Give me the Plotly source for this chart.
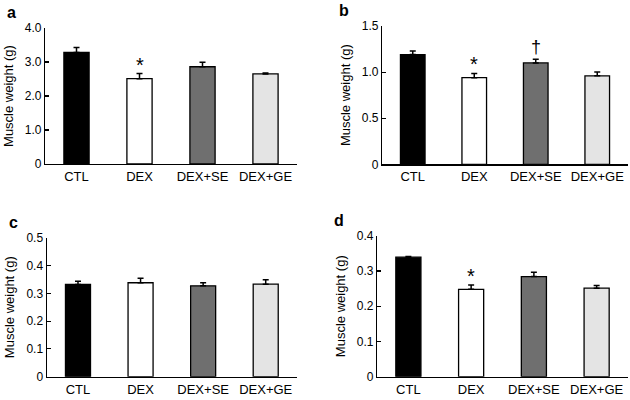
import plotly.graph_objects as go

categories = ["CTL", "DEX", "DEX+SE", "DEX+GE"]
colors = ["#000000", "#ffffff", "#6f6f6f", "#e4e4e4"]

a_vals = [3.28, 2.51, 2.86, 2.65]
a_err = [0.15, 0.15, 0.13, 0.03]
b_vals = [1.19, 0.94, 1.10, 0.96]
b_err = [0.04, 0.045, 0.04, 0.04]
c_vals = [0.332, 0.338, 0.327, 0.333]
c_err = [0.011, 0.016, 0.011, 0.016]
d_vals = [0.339, 0.248, 0.284, 0.251]
d_err = [0.002, 0.012, 0.012, 0.008]

a_ticks = [0, 1, 2, 3, 4]
a_ticktext = ["0", "1.0", "2.0", "3.0", "4.0"]
b_ticks = [0, 0.5, 1.0, 1.5]
b_ticktext = ["0", "0.5", "1.0", "1.5"]
c_ticks = [0, 0.1, 0.2, 0.3, 0.4, 0.5]
c_ticktext = ["0", "0.1", "0.2", "0.3", "0.4", "0.5"]
d_ticks = [0, 0.1, 0.2, 0.3, 0.4]
d_ticktext = ["0", "0.1", "0.2", "0.3", "0.4"]

# significance marks: (panel, category index, symbol)
marks = [("a", 1, "*"), ("b", 1, "*"), ("b", 2, "†"), ("d", 1, "*")]

panels = {
    "a": dict(vals=a_vals, err=a_err, ticks=a_ticks, tt=a_ticktext, rng=[0, 4.0],
              xd=[45/630, 297/630], yd=[1-164/400, 1-28/400], ax=""),
    "b": dict(vals=b_vals, err=b_err, ticks=b_ticks, tt=b_ticktext, rng=[0, 1.5],
              xd=[382/630, 628/630], yd=[1-164.3/400, 1-26/400], ax="2"),
    "c": dict(vals=c_vals, err=c_err, ticks=c_ticks, tt=c_ticktext, rng=[0, 0.5],
              xd=[46.7/630, 297/630], yd=[1-376.7/400, 1-237.7/400], ax="3"),
    "d": dict(vals=d_vals, err=d_err, ticks=d_ticks, tt=d_ticktext, rng=[0, 0.4],
              xd=[377/630, 628/630], yd=[1-376.7/400, 1-235.7/400], ax="4"),
}

FONT = "Liberation Sans, Arial, sans-serif"
fig = go.Figure()
layout = {}
annotations = []
for key, p in panels.items():
    ax = p["ax"]
    fig.add_trace(go.Bar(
        x=categories, y=p["vals"],
        marker=dict(color=colors, line=dict(color="#000000", width=1.3)),
        error_y=dict(type="data", symmetric=False, array=p["err"],
                     arrayminus=[0]*len(p["err"]), color="#000000",
                     thickness=1.5, width=3),
        xaxis="x" + ax, yaxis="y" + ax, showlegend=False, width=0.4,
    ))
    layout["xaxis" + ax] = dict(
        domain=p["xd"], anchor="y" + ax, showline=True, linecolor="#000000",
        linewidth=1.2, ticks="", showgrid=False, zeroline=False, automargin=False,
        tickfont=dict(family=FONT, size=13, color="#000000"),
    )
    layout["yaxis" + ax] = dict(
        domain=p["yd"], anchor="x" + ax, range=p["rng"], showline=True,
        linecolor="#000000", linewidth=1.2, ticks="inside", ticklen=4,
        tickcolor="#000000", tickwidth=1.2, tickvals=p["ticks"], ticktext=p["tt"],
        showgrid=False, zeroline=False, automargin=False,
        tickfont=dict(family=FONT, size=12, color="#000000"),
        title=dict(text="Muscle weight (g)", standoff=8,
                   font=dict(family=FONT, size=13, color="#000000")),
    )
    annotations.append(dict(
        text="<b>" + key + "</b>", xref="paper", yref="paper",
        x=p["xd"][0] - (40 if key in ("a", "c") else 45)/630,
        y=p["yd"][1] + 5/400, xanchor="left", yanchor="bottom", showarrow=False,
        font=dict(family=FONT, size=16, color="#000000"),
    ))

for key, idx, sym in marks:
    p = panels[key]
    ax = p["ax"]
    annotations.append(dict(
        text=sym, x=categories[idx], y=p["vals"][idx] + p["err"][idx],
        xref="x" + ax, yref="y" + ax, yanchor="bottom", showarrow=False,
        yshift=-4 if sym == "*" else 0,
        font=dict(family=FONT, size=20 if sym == "*" else 18, color="#000000"),
    ))

fig.update_layout(
    **layout,
    annotations=annotations,
    width=630, height=400,
    margin=dict(l=0, r=0, t=0, b=0, autoexpand=False),
    paper_bgcolor="#ffffff", plot_bgcolor="#ffffff",
    bargap=0.6,
)
fig.write_html("out.html", config={"staticPlot": True, "displayModeBar": False},
               post_script="document.body.style.margin='0px';")
